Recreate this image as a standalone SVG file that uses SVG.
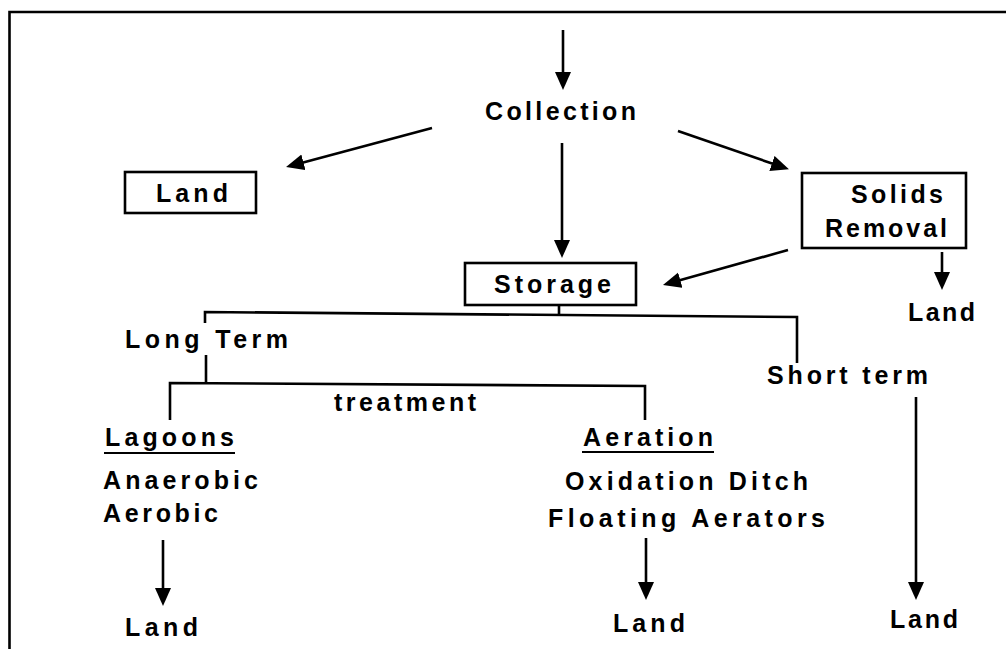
<svg xmlns="http://www.w3.org/2000/svg" width="1006" height="649" viewBox="0 0 1006 649">
<style>
text{font-family:"Liberation Sans",Arial,sans-serif;font-weight:bold;font-size:25px;fill:#000}
.ln{stroke:#000;stroke-width:2.6;fill:none}
.arr{stroke:#000;stroke-width:2.6;fill:none;marker-end:url(#ah)}
.box{stroke:#000;stroke-width:2.6;fill:#fff}
</style>
<defs>
<marker id="ah" markerUnits="userSpaceOnUse" markerWidth="20" markerHeight="18" refX="8" refY="8" orient="auto">
<path d="M0,0 L18,8 L0,16 z" fill="#000"/>
</marker>
</defs>
<rect width="1006" height="649" fill="#fff"/>
<g id="frame">
<path class="ln" d="M9.5,649 V12 H1006"/>
</g>
<g id="connectors">
<line class="arr" x1="563" y1="30" x2="563" y2="80"/>
<line class="arr" x1="432" y1="128" x2="295.7" y2="164.4"/>
<line class="arr" x1="678" y1="131" x2="779.5" y2="166.1"/>
<line class="arr" x1="562" y1="143" x2="562" y2="248"/>
<line class="arr" x1="942" y1="252" x2="942" y2="280"/>
<line class="arr" x1="788" y1="250" x2="672.6" y2="282.3"/>
<line class="arr" x1="163" y1="540" x2="163" y2="596"/>
<line class="arr" x1="646" y1="538" x2="646" y2="590"/>
<line class="arr" x1="916" y1="397" x2="916" y2="590"/>
<path class="ln" d="M559,305 V315"/>
<path class="ln" d="M205,323 V312 L797,317 V363"/>
<path class="ln" d="M206,355 V384"/>
<path class="ln" d="M170,420 V383 L645,386 V420"/>
</g>
<g id="collection">
<text x="485" y="120" textLength="151" lengthAdjust="spacing">Collection</text>
</g>
<g id="land-box">
<rect class="box" x="125" y="172" width="131" height="41"/>
<text x="156" y="202" textLength="72" lengthAdjust="spacing">Land</text>
</g>
<g id="solids-removal">
<rect class="box" x="802" y="173" width="164" height="75"/>
<text x="851" y="203" textLength="92" lengthAdjust="spacing">Solids</text>
<text x="825" y="237" textLength="122" lengthAdjust="spacing">Removal</text>
</g>
<g id="land-solids">
<text x="908" y="321" textLength="67" lengthAdjust="spacing">Land</text>
</g>
<g id="storage">
<rect class="box" x="465" y="263" width="171" height="42"/>
<text x="494" y="293" textLength="117" lengthAdjust="spacing">Storage</text>
</g>
<g id="long-term">
<text x="125" y="348" textLength="163" lengthAdjust="spacing">Long Term</text>
</g>
<g id="short-term">
<text x="767" y="384" textLength="161" lengthAdjust="spacing">Short term</text>
</g>
<g id="treatment">
<text x="334" y="411" textLength="142" lengthAdjust="spacing">treatment</text>
</g>
<g id="lagoons">
<text x="105" y="446" textLength="129" lengthAdjust="spacing">Lagoons</text>
<line x1="104" y1="453" x2="235" y2="453" stroke="#000" stroke-width="2"/>
<text x="103" y="489" textLength="155" lengthAdjust="spacing">Anaerobic</text>
<text x="103" y="522" textLength="115" lengthAdjust="spacing">Aerobic</text>
</g>
<g id="land-lagoons">
<text x="125" y="636" textLength="73" lengthAdjust="spacing">Land</text>
</g>
<g id="aeration">
<text x="583" y="446" textLength="130" lengthAdjust="spacing">Aeration</text>
<line x1="582" y1="452" x2="714" y2="452" stroke="#000" stroke-width="2"/>
<text x="565" y="490" textLength="243" lengthAdjust="spacing">Oxidation Ditch</text>
<text x="548" y="527" textLength="277" lengthAdjust="spacing">Floating Aerators</text>
</g>
<g id="land-aeration">
<text x="613" y="632" textLength="72" lengthAdjust="spacing">Land</text>
</g>
<g id="land-short">
<text x="890" y="628" textLength="68" lengthAdjust="spacing">Land</text>
</g>
</svg>
